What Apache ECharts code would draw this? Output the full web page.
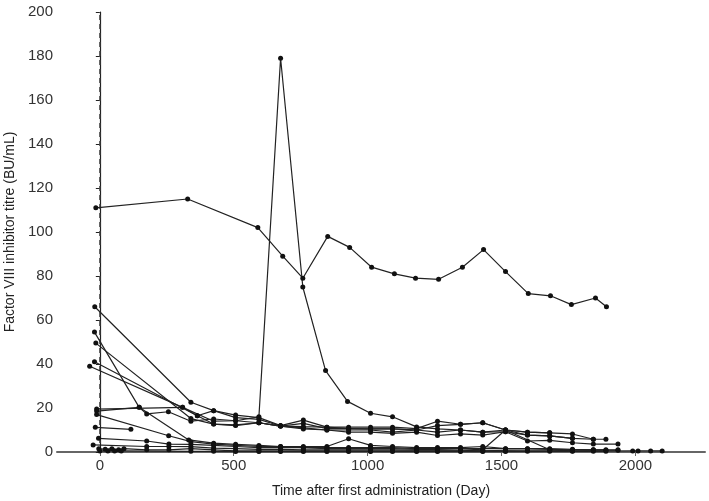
<!DOCTYPE html>
<html>
<head>
<meta charset="utf-8">
<script src="https://cdn.jsdelivr.net/npm/echarts@6/dist/echarts.min.js"></script>
<style>
html, body { margin: 0; padding: 0; background: #fff; }
#chart { width: 709px; height: 501px; }
</style>
</head>
<body>
<div id="chart"></div>
<script>
// tick labels
var xTicks = [0, 500, 1000, 1500, 2000];
var yTicks = [0, 20, 40, 60, 80, 100, 120, 140, 160, 180, 200];

// reference line at first administration
var refLine = [[0, 0], [0, 200]];

// one array per patient: [day, titre]
var p1 = [[-15, 111], [328, 115], [590, 102], [683, 89], [758, 79], [851, 98], [933, 93], [1015, 84], [1100, 81], [1179, 79], [1265, 78.5], [1354, 84], [1433, 92], [1515, 82], [1600, 72], [1683, 71], [1761, 67], [1851, 70], [1892, 66]];
var p2 = [[-38, 39], [309, 20.3], [425, 14], [507, 14.2], [594, 16], [675, 179], [758, 75], [843, 37], [925, 23], [1011, 17.6], [1093, 16], [1183, 11.4], [1261, 10.5], [1347, 10], [1430, 9], [1515, 9.2], [1597, 7.7], [1680, 7.3], [1765, 6.2]];
var p3 = [[-19, 66], [340, 22.6], [425, 18.8], [507, 16.8], [594, 15.6], [675, 12], [760, 14.5], [848, 11.3], [929, 11.3], [1011, 11.3], [1093, 11.3], [1183, 10.6], [1261, 14], [1347, 12.6], [1430, 13.3], [1515, 10], [1597, 9], [1680, 8.7], [1765, 8.2], [1843, 5.8], [1890, 5.8]];
var p4 = [[-20, 54.5], [147, 20.3], [332, 5.5], [425, 4], [507, 3.5], [594, 3], [675, 2.5], [760, 2.5], [848, 2.5], [929, 6], [1011, 3], [1093, 2.5], [1183, 2], [1261, 2], [1347, 2], [1430, 2.5], [1515, 1.5], [1597, 1.5], [1680, 1.2], [1765, 1], [1843, 1], [1935, 1]];
var p5 = [[-15, 49.5], [340, 15.2], [425, 12.7], [507, 12.3], [594, 13.3], [675, 11.8], [760, 10.5], [848, 10], [929, 9], [1011, 9], [1093, 8.5], [1183, 9], [1261, 7.5], [1347, 8.2], [1430, 7.7], [1515, 9.2], [1597, 5], [1680, 5.3], [1765, 4.2], [1843, 3.6], [1935, 3.6]];
var p6 = [[-20, 41], [364, 16.5], [425, 18.8], [507, 15.6], [594, 14.8], [675, 11.8], [760, 13], [848, 10.6], [929, 10.6], [1011, 10.5], [1093, 10.5], [1183, 10], [1261, 9], [1347, 10], [1430, 9], [1515, 10], [1597, 7.7], [1680, 7.3], [1765, 6.2], [1843, 5.8]];
var p7 = [[-12, 18.6], [147, 20.3], [175, 17.3], [256, 18.3], [340, 14], [425, 15], [507, 14.2], [594, 13.3], [675, 11.8], [760, 11.5], [848, 11.3], [929, 10.6], [1011, 10.5], [1093, 10.5], [1183, 10], [1261, 12], [1347, 12.6], [1430, 13.3], [1515, 10], [1597, 9], [1680, 8.7]];
var p8 = [[-12, 19.5], [309, 20.3], [364, 16.5], [425, 12.7], [507, 12], [594, 13.3], [675, 11.8], [760, 11], [848, 10], [929, 10], [1011, 10], [1093, 9], [1183, 10]];
var p9 = [[-12, 17], [257, 7.4], [340, 4.7], [425, 3.6], [507, 3], [594, 2.5], [675, 2.5], [760, 2], [848, 2], [929, 2], [1011, 2], [1093, 2], [1183, 1.5], [1261, 1.5], [1347, 1.5], [1430, 1], [1515, 10], [1680, 1], [1765, 0.5]];
var p10 = [[-17, 11.2], [116, 10.3]];
var p11 = [[-5, 6.2], [175, 5], [258, 3.6], [340, 3.5], [425, 3], [507, 2.5], [594, 2], [675, 2], [760, 2], [848, 1.5], [929, 1.5], [1011, 1.5], [1093, 1.5], [1183, 1.2], [1261, 1.2], [1347, 1.5], [1430, 1.5], [1515, 1.5], [1597, 1.5], [1680, 1.5], [1765, 1.2], [1843, 1], [1890, 1]];
var p12 = [[-25, 3.2], [175, 2.5], [258, 2.5], [340, 2.4], [425, 1.8], [507, 1.5], [594, 1.2], [675, 1.2], [760, 1], [848, 1], [929, 1], [1011, 1], [1093, 1], [1183, 0.8], [1261, 0.8], [1347, 0.8], [1430, 0.5], [1515, 0.8], [1597, 0.8], [1680, 0.8], [1765, 0.8], [1843, 0.8], [1890, 0.8], [1935, 0.8]];
var p13 = [[-4, 1.5], [20, 1.2], [45, 1.5], [70, 1], [90, 1.5], [175, 1], [258, 1], [340, 1.5], [425, 1], [507, 0.5], [594, 0.5], [675, 0.5], [760, 0.5], [848, 0.5], [929, 0.5], [1011, 0.5], [1093, 0.5], [1183, 0.5], [1261, 0.5], [1347, 0.5], [1430, 0.5], [1515, 0.5], [1597, 0.3], [1680, 0.3], [1765, 0.3], [1843, 0.3], [1890, 0.3]];
var p14 = [[0, 0.5], [30, 0.5], [55, 0.5], [80, 0.5], [340, 0.3], [425, 0.3], [507, 0.2], [594, 0.2], [675, 0.2], [760, 0.2], [848, 0.2], [929, 0.2], [1011, 0.2], [1093, 0.2], [1183, 0.2], [1261, 0.2], [1347, 0.2], [1430, 0.2], [1515, 0.2], [1990, 0.5], [2010, 0.5], [2057, 0.5], [2100, 0.5]];

var patients = [p1, p2, p3, p4, p5, p6, p7, p8, p9, p10, p11, p12, p13, p14];

var myChart = echarts.init(document.getElementById('chart'), null, { renderer: 'canvas' });

// dashed line at day 0 (drawn first so patient lines sit on top)
var series = [{
    type: 'line',
    data: refLine,
    symbol: 'none',
    silent: true,
    animation: false,
    lineStyle: { color: '#444', type: [5, 4], width: 1.3 }
}];

patients.forEach(function (p) {
    series.push({
        type: 'line',
        data: p,
        symbol: 'circle',
        symbolSize: 5,
        showSymbol: true,
        animation: false,
        itemStyle: { color: '#111' },
        lineStyle: { color: '#222', width: 1.2 }
    });
});

var option = {
    animation: false,
    backgroundColor: '#fff',
    textStyle: { fontFamily: 'Liberation Sans, Arial, sans-serif' },
    grid: { left: 57, right: 4, top: 12, bottom: 49, outerBoundsMode: 'none' },
    xAxis: {
        type: 'value',
        min: -160,
        max: 2260,
        name: 'Time after first administration (Day)',
        nameLocation: 'middle',
        nameGap: 32,
        nameTextStyle: { fontSize: 14, color: '#222' },
        splitLine: { show: false },
        axisLine: { onZero: false, lineStyle: { color: '#666', width: 2 } },
        axisTick: { customValues: xTicks, length: 4, lineStyle: { color: '#666' } },
        axisLabel: {
            customValues: xTicks, fontSize: 15, color: '#333', margin: 6,
            formatter: function (v) { return String(v); }
        }
    },
    yAxis: {
        type: 'value',
        min: 0,
        max: 200,
        interval: 20,
        name: 'Factor VIII inhibitor titre (BU/mL)',
        nameLocation: 'middle',
        nameGap: 38,
        nameTextStyle: { fontSize: 14, color: '#222' },
        splitLine: { show: false },
        axisLine: { show: true, lineStyle: { color: '#222', width: 1.2 } },
        axisTick: { show: true, length: 4, lineStyle: { color: '#222' } },
        axisLabel: { fontSize: 15, color: '#333', margin: 4 }
    },
    series: series
};

myChart.setOption(option);
</script>
</body>
</html>
